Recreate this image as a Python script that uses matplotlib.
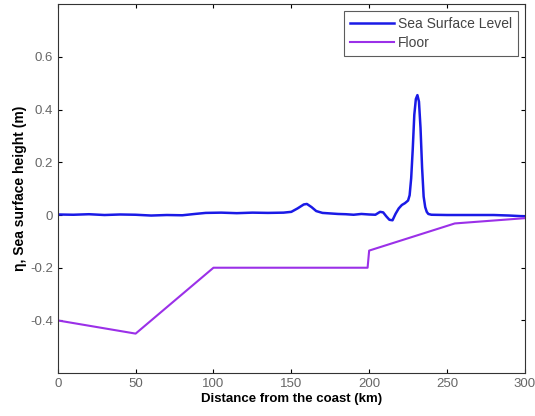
import matplotlib.pyplot as plt

plt.rcParams['font.family'] = ['Liberation Sans', 'DejaVu Sans']

# Nivel del mar (km, m)
dist_mar = [0, 10, 20, 30, 40, 50, 60, 70, 80, 88, 95, 105, 115, 125, 135, 145,
            150, 154, 158, 160, 163, 166, 170, 175, 180, 185, 190, 195, 200,
            204, 207, 209, 211, 213, 215, 217, 219, 221, 223, 225, 226, 227,
            228, 229, 230, 231, 232, 233, 234, 235, 236, 237, 238, 240, 250,
            260, 270, 280, 290, 300]
nivel_mar = [0.002, 0.001, 0.003, 0.0, 0.002, 0.001, -0.002, 0.0, -0.001, 0.004,
             0.008, 0.009, 0.007, 0.009, 0.008, 0.009,
             0.012, 0.025, 0.040, 0.042, 0.030, 0.015, 0.008, 0.006, 0.004,
             0.003, 0.001, 0.004, 0.002,
             0.001, 0.012, 0.010, -0.005, -0.018, -0.020, 0.005, 0.025, 0.038,
             0.045, 0.055, 0.075, 0.14, 0.25, 0.38, 0.44, 0.455, 0.43, 0.33,
             0.18, 0.07, 0.03, 0.012, 0.004, 0.001, 0.0,
             0.0, 0.0, 0.0, -0.002, -0.005]

# Fondo marino
dist_fondo = [0, 50, 100, 199, 200, 255, 300]
fondo = [-0.40, -0.45, -0.20, -0.20, -0.135, -0.032, -0.012]

fig = plt.figure(figsize=(5.35, 4.16), dpi=100)
ax = fig.add_axes([0.108, 0.103, 0.873, 0.887])

ax.plot(dist_mar, nivel_mar, color="#1a1ae6", lw=1.8, label="Sea Surface Level")
ax.plot(dist_fondo, fondo, color="#9b30e8", lw=1.5, label="Floor")

ax.set_xlim(0, 300)
ax.set_ylim(-0.6, 0.8)
ax.set_xticks([0, 50, 100, 150, 200, 250, 300])
ax.set_yticks([-0.4, -0.2, 0, 0.2, 0.4, 0.6])
ax.set_yticklabels(["-0.4", "-0.2", "0", "0.2", "0.4", "0.6"])
ax.tick_params(direction="in", labelsize=9.5, labelcolor="#666666", length=3,
               top=True, right=True)
for s in ax.spines.values():
    s.set_color("#333333")
    s.set_linewidth(0.8)

ax.set_xlabel("Distance from the coast (km)", fontsize=9.5, fontweight="bold", labelpad=2)
ax.set_ylabel("η, Sea surface height (m)", fontsize=10, fontweight="bold", labelpad=2)

leg = ax.legend(loc="upper right", fontsize=10, fancybox=False, edgecolor="#333333",
                borderaxespad=0.5, handlelength=3.2, handletextpad=0.3,
                labelspacing=0.4, borderpad=0.4)
leg.get_frame().set_linewidth(0.8)
for t in leg.get_texts():
    t.set_color("#444444")

fig.savefig("out.png", dpi=100)
